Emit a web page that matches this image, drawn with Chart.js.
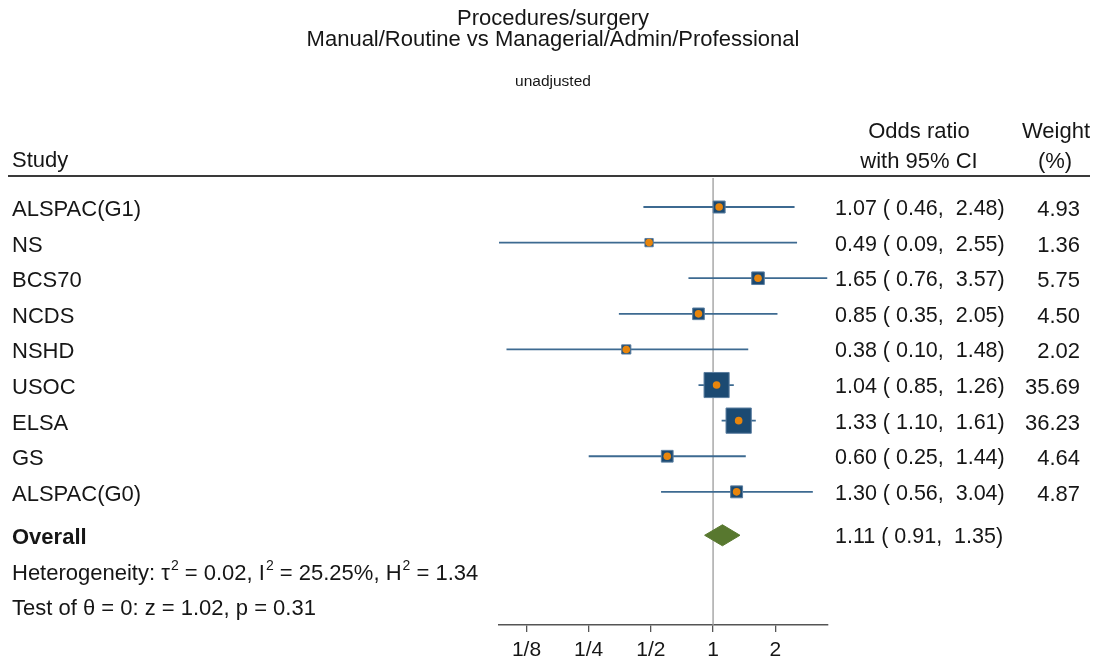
<!DOCTYPE html>
<html>
<head>
<meta charset="utf-8">
<script src="https://cdn.jsdelivr.net/npm/chart.js@4.4.1/dist/chart.umd.min.js"></script>
<style>
  body { margin: 0; background: #fff; font-family: "Liberation Sans", Arial, sans-serif; }
  #wrap { position: relative; width: 1098px; height: 663px; }
  canvas { position: absolute; left: 0; top: 0; }
  .t { position: absolute; white-space: pre; color: #161616; line-height: 1; font-size: 22px; transform: translateY(calc(-50% + 2px)); }
  .c { transform: translate(-50%, calc(-50% + 2px)); }
  .r { transform: translate(-100%, calc(-50% + 2px)); }
  .ci { font-size: 21.5px; }
  sup { font-size: 14px; vertical-align: 10px; line-height: 0; margin-left: 1px; }
  #rule { position: absolute; left: 8px; top: 175px; width: 1082px; height: 2px; background: #3a3a3a; }
</style>
</head>
<body>
<div id="wrap">
  <canvas id="plot" width="1098" height="663"></canvas>
  <div class="t c" style="left:553px;top:16px">Procedures/surgery</div>
  <div class="t c" style="left:553px;top:37px">Manual/Routine vs Managerial/Admin/Professional</div>
  <div class="t c" style="left:553px;top:79px;font-size:15.5px">unadjusted</div>
  <div class="t" style="left:12px;top:158px">Study</div>
  <div class="t c" style="left:919px;top:129px">Odds ratio</div>
  <div class="t c" style="left:919px;top:159px">with 95% CI</div>
  <div class="t c" style="left:1056px;top:129px">Weight</div>
  <div class="t c" style="left:1055px;top:159px">(%)</div>
  <div id="rule"></div>
</div>
<script>
// study rows
const studies = ["ALSPAC(G1)", "NS", "BCS70", "NCDS", "NSHD", "USOC", "ELSA", "GS", "ALSPAC(G0)"];
const oddsRatio = [1.07, 0.49, 1.65, 0.85, 0.38, 1.04, 1.33, 0.60, 1.30];
const ciLow = [0.46, 0.09, 0.76, 0.35, 0.10, 0.85, 1.10, 0.25, 0.56];
const ciHigh = [2.48, 2.55, 3.57, 2.05, 1.48, 1.26, 1.61, 1.44, 3.04];
const weights = [4.93, 1.36, 5.75, 4.50, 2.02, 35.69, 36.23, 4.64, 4.87];

// overall estimate: OR, low, high
const overallEst = [1.11, 0.91, 1.35];

const tickValues = [0.125, 0.25, 0.5, 1, 2];
const tickLabels = ["1/8", "1/4", "1/2", "1", "2"];

const FONT = "'Liberation Sans', Arial, sans-serif";
const overallRow = studies.length + 0.22;
const yMin = -0.815, yMax = 11.74;
const diamondHalf = 0.295;

const fmt = v => v.toFixed(2);

const ciLines = studies.map((s, i) => ({
  type: "line",
  data: [{ x: ciLow[i], y: i }, { x: ciHigh[i], y: i }],
  borderColor: "#3d6a91",
  borderWidth: 1.8,
  pointRadius: 0,
  order: 4
}));

const config = {
  type: "scatter",
  data: {
    datasets: [
      {
        data: oddsRatio.map((v, i) => ({ x: v, y: i })),
        pointStyle: "circle",
        pointRadius: 3.8,
        backgroundColor: "#e8850c",
        borderWidth: 0,
        order: 1
      },
      {
        data: oddsRatio.map((v, i) => ({ x: v, y: i })),
        pointStyle: "rect",
        pointRadius: ctx => (4.2 + 3.5 * Math.sqrt(weights[ctx.dataIndex])) / Math.SQRT2,
        backgroundColor: "#1c4a72",
        borderColor: "#5b7ea0",
        borderWidth: 1,
        order: 2
      },
      {
        type: "line",
        data: [
          { x: overallEst[1], y: overallRow },
          { x: overallEst[0], y: overallRow - diamondHalf },
          { x: overallEst[2], y: overallRow },
          { x: overallEst[0], y: overallRow + diamondHalf },
          { x: overallEst[1], y: overallRow }
        ],
        borderColor: "#58782f",
        backgroundColor: "#58782f",
        borderWidth: 1,
        fill: "shape",
        pointRadius: 0,
        tension: 0,
        order: 3
      },
      ...ciLines,
      {
        type: "line",
        data: [{ x: 1, y: yMin }, { x: 1, y: yMax }],
        borderColor: "#9c9c9c",
        borderWidth: 1.3,
        pointRadius: 0,
        order: 5
      }
    ]
  },
  options: {
    responsive: false,
    animation: false,
    layout: { padding: { left: 499, right: 270, top: 178, bottom: 0 } },
    plugins: { legend: { display: false }, tooltip: { enabled: false } },
    scales: {
      x: {
        type: "logarithmic",
        min: 0.092,
        max: 3.6,
        afterBuildTicks: s => { s.ticks = tickValues.map(v => ({ value: v })); },
        afterFit: s => { s.height = 38; },
        ticks: {
          callback: v => tickLabels[tickValues.indexOf(v)],
          font: { family: FONT, size: 21 },
          color: "#161616",
          padding: 6,
          autoSkip: false,
          maxRotation: 0
        },
        grid: { drawOnChartArea: false, drawTicks: true, tickLength: 7, color: "#555", lineWidth: 1.3 },
        border: { color: "#555", width: 1.5 }
      },
      y: { type: "linear", min: yMin, max: yMax, reverse: true, display: false }
    }
  }
};

const chart = new Chart(document.getElementById("plot"), config);

// text columns placed on the chart's own row scale
const wrap = document.getElementById("wrap");
function addText(html, left, row, cls, extra) {
  const d = document.createElement("div");
  d.className = "t" + (cls ? " " + cls : "");
  d.style.left = left + "px";
  d.style.top = chart.scales.y.getPixelForValue(row) + "px";
  if (extra) d.style.cssText += extra;
  d.innerHTML = html;
  wrap.appendChild(d);
}
studies.forEach((s, i) => {
  addText(s, 12, i);
  addText(fmt(oddsRatio[i]) + " ( " + fmt(ciLow[i]) + ",  " + fmt(ciHigh[i]) + ")", 835, i, "ci");
  addText(fmt(weights[i]), 1080, i, "r");
});
addText("Overall", 12, overallRow, "", "font-weight:bold");
addText(fmt(overallEst[0]) + " ( " + fmt(overallEst[1]) + ",  " + fmt(overallEst[2]) + ")", 835, overallRow, "ci");
addText("Heterogeneity: \u03c4<sup>2</sup> = 0.02, I<sup>2</sup> = 25.25%, H<sup>2</sup> = 1.34", 12, overallRow + 1);
addText("Test of \u03b8 = 0: z = 1.02, p = 0.31", 12, overallRow + 2);
</script>
</body>
</html>
